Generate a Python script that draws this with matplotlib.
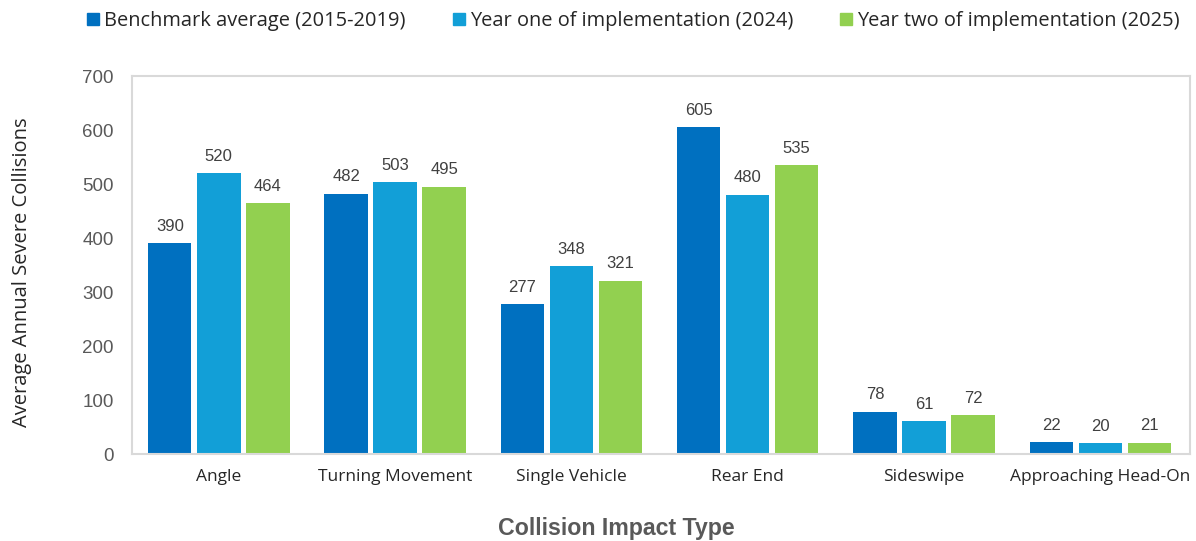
import numpy as np
import matplotlib
matplotlib.use('Agg')
import matplotlib.pyplot as plt
from matplotlib.lines import Line2D

# data
categories = ['Angle', 'Turning Movement', 'Single Vehicle', 'Rear End', 'Sideswipe', 'Approaching Head-On']
benchmark = [390, 482, 277, 605, 78, 22]
year_one = [520, 503, 348, 480, 61, 20]
year_two = [464, 495, 321, 535, 72, 21]
series_names = ['Benchmark average (2015-2019)',
                'Year one of implementation (2024)',
                'Year two of implementation (2025)']
colors = ['#0070C0', '#129FD7', '#92D050']

fig = plt.figure(figsize=(11.96, 5.41), dpi=100)
ax = fig.add_axes([0.11, 0.1608, 0.885, 0.6987])

x = np.arange(len(categories))
width = 0.246
step = 0.278

for i, (vals, name, c) in enumerate(zip([benchmark, year_one, year_two], series_names, colors)):
    bars = ax.bar(x + (i - 1) * step, vals, width, color=c, label=name)
    for b, v in zip(bars, vals):
        ax.annotate(str(v), (b.get_x() + b.get_width() / 2, v),
                    xytext=(0, 9), textcoords='offset points',
                    ha='center', va='baseline', fontsize=12,
                    family='Liberation Sans', color='#404040')

ax.set_xlim(-0.495, 5.509)
ax.set_ylim(0, 700)
ax.set_yticks(range(0, 701, 100))
ax.set_xticks(x)
ax.set_xticklabels(categories, family='Open Sans', fontsize=12.5, color='#262626')
ax.tick_params(axis='x', length=0, pad=10.5)
ax.tick_params(axis='y', length=0, pad=13, labelsize=13.5, labelcolor='#595959')
for lab in ax.get_yticklabels():
    lab.set_family('Liberation Sans')

for s in ax.spines.values():
    s.set_color('#d9d9d9')
    s.set_linewidth(1.5)

ax.set_ylabel('Average Annual Severe Collisions', family='Open Sans', fontsize=14.5, color='#262626')
ax.yaxis.set_label_coords(-0.094, 0.48)

fig.text(0.515, 0.024, 'Collision Impact Type', ha='center', va='center',
         family='Liberation Sans', fontweight='bold', fontsize=16.7, color='#595959')

handles = [Line2D([], [], marker='s', linestyle='none', markersize=8, color=c) for c in colors]
fig.legend(handles, series_names, loc='center', bbox_to_anchor=(0.53, 0.962), ncol=3,
           frameon=False, prop={'family': 'Open Sans', 'size': 14.4},
           handlelength=0.5, handletextpad=0.3, columnspacing=2.4, labelcolor='#262626')

fig.savefig('out.png', dpi=100)
